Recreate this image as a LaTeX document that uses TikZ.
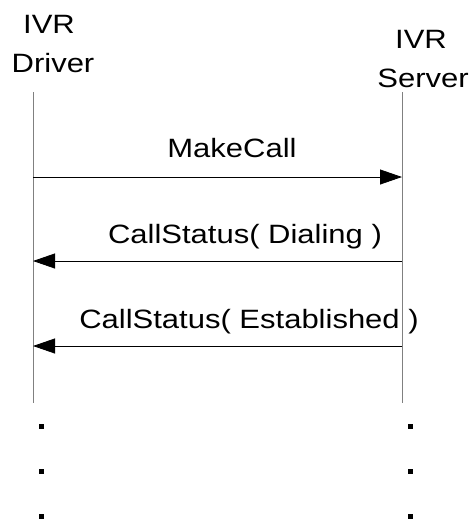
\documentclass[tikz,border=0pt]{standalone}
\usepackage{fontspec}
\setmainfont[FakeStretch=1.17]{Liberation Sans}
\usetikzlibrary{arrows.meta}
\begin{document}
\begin{tikzpicture}[x=1pt,y=-1pt,
  lbl/.style={font=\fontsize{26.5}{40}\selectfont, inner sep=0pt, anchor=base},
  life/.style={draw=black!50, line width=0.9pt},
  msg/.style={draw=black, line width=0.8pt, -{Triangle[length=22pt,width=15pt]}},
  dotm/.style={fill=black, minimum size=5pt, inner sep=0pt, draw=none}]
\useasboundingbox (0,0) rectangle (471,523);
% headers
\node[lbl] (drvA) at (49,33) {IVR};
\node[lbl] (drvB) at (53,72) {Driver};
\node[lbl] (srvA) at (421,48) {IVR};
\node[lbl] (srvB) at (423,87) {Server};
% lifelines
\coordinate (dTop) at (33,92);
\coordinate (dBot) at (33,403);
\coordinate (sTop) at (402,92);
\coordinate (sBot) at (402,403);
\draw[life] (dTop) -- (dBot);
\draw[life] (sTop) -- (sBot);
% messages
\coordinate (m1d) at (33,177);
\coordinate (m1s) at (402,177);
\coordinate (m2d) at (33,261);
\coordinate (m2s) at (402,261);
\coordinate (m3d) at (33,346);
\coordinate (m3s) at (402,346);
\draw[msg] (m1d) -- (m1s);
\draw[msg] (m2s) -- (m2d);
\draw[msg] (m3s) -- (m3d);
\node[lbl] (t1) at (232,157) {MakeCall};
\node[lbl] (t2) at (245,243) {CallStatus( Dialing )};
\node[lbl] (t3) at (249,328) {CallStatus( Established )};
% continuation dots
\node[dotm] (dl1) at (41,426) {};
\node[dotm] (dl2) at (41,471) {};
\node[dotm] (dl3) at (41,516) {};
\node[dotm] (dr1) at (410,426) {};
\node[dotm] (dr2) at (410,471) {};
\node[dotm] (dr3) at (410,516) {};
\end{tikzpicture}
\end{document}
